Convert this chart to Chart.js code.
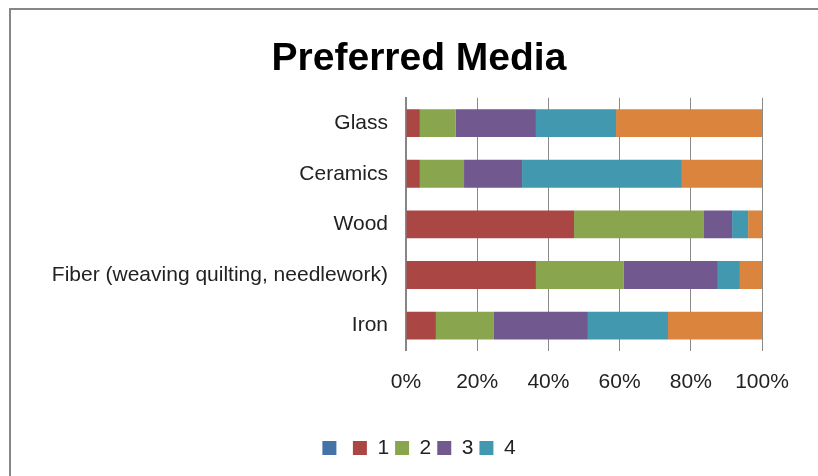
<!DOCTYPE html>
<html>
<head>
<meta charset="utf-8">
<script src="https://cdn.jsdelivr.net/npm/chart.js@4/dist/chart.umd.min.js"></script>
<style>
  body { margin: 0; overflow: hidden; background: #fff; }
  #box {
    position: absolute; left: 9px; top: 8px;
    width: 808px; height: 466px;
    border: 2px solid #868686;
  }
</style>
</head>
<body>
<div id="box"><canvas id="myChart"></canvas></div>
<script>
const categories = ['Glass', 'Ceramics', 'Wood', 'Fiber (weaving quilting, needlework)', 'Iron']
const xTicks = [0, 20, 40, 60, 80, 100]

// share of answers (%) per rating
const blank = [0, 0, 0, 0, 0]
const rating1 = [3.9, 3.9, 47.2, 36.5, 8.4]
const rating2 = [10.1, 12.4, 36.5, 24.7, 16.3]
const rating3 = [22.5, 16.3, 7.9, 26.4, 26.4]
const rating4 = [22.5, 44.9, 4.5, 6.2, 22.5]
const rating5 = [41.0, 22.5, 3.9, 6.2, 26.4]

const font = "'Liberation Sans', Arial, sans-serif"

const ctx = document.getElementById('myChart').getContext('2d')
new Chart(ctx, {
  type: 'bar',
  data: {
    labels: categories,
    datasets: [
      { label: '', data: blank, backgroundColor: '#4572A7' },
      { label: '1', data: rating1, backgroundColor: '#AA4643' },
      { label: '2', data: rating2, backgroundColor: '#89A54E' },
      { label: '3', data: rating3, backgroundColor: '#71588F' },
      { label: '4', data: rating4, backgroundColor: '#4198AF' },
      { label: '5', data: rating5, backgroundColor: '#DB843D' }
    ]
  },
  options: {
    indexAxis: 'y',
    responsive: true,
    maintainAspectRatio: false,
    animation: false,
    datasets: { bar: { barPercentage: 0.55, categoryPercentage: 1 } },
    layout: { padding: { left: 8, right: 0, top: 0, bottom: 7.5 } },
    scales: {
      x: {
        stacked: true,
        min: 0,
        max: 100,
        afterBuildTicks: scale => { scale.ticks = xTicks.map(v => ({ value: v })) },
        grid: { color: '#8a8a8a', lineWidth: 1, drawTicks: false },
        border: { display: false },
        ticks: {
          padding: 19,
          color: '#222',
          font: { family: font, size: 21 },
          callback: v => v + '%'
        }
      },
      y: {
        stacked: true,
        afterFit: scale => { scale.width = 387 },
        grid: { display: false, drawTicks: false },
        border: { color: '#868686', width: 2 },
        ticks: {
          padding: 18,
          color: '#222',
          font: { family: font, size: 21 }
        }
      },
      // empty right-hand margin so the title and legend stay centred on the whole chart
      yRight: {
        position: 'right',
        afterFit: scale => { scale.width = 57 },
        grid: { display: false, drawTicks: false },
        border: { display: false },
        ticks: { display: false }
      }
    },
    plugins: {
      title: {
        display: true,
        text: 'Preferred Media',
        color: '#000',
        font: { family: font, size: 39, weight: 'bold' },
        padding: { top: 26, bottom: 15 }
      },
      legend: {
        position: 'bottom',
        title: { display: true, text: '', font: { size: 10 }, padding: 2.7 },
        labels: {
          boxWidth: 14,
          boxHeight: 14,
          padding: 6,
          color: '#222',
          font: { family: font, size: 21 },
          filter: item => item.text !== '5'
        }
      },
      tooltip: { enabled: false }
    }
  }
})
</script>
</body>
</html>
